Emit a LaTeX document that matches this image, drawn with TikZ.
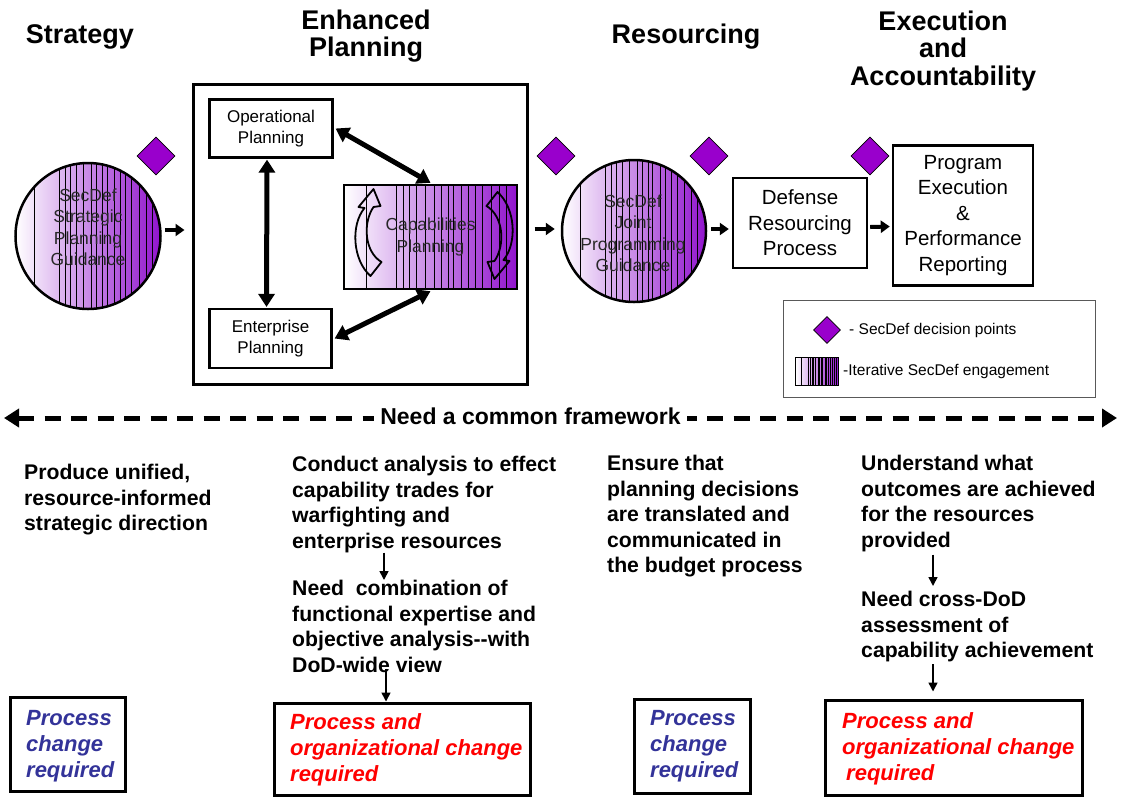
\documentclass[tikz,border=0pt]{standalone}
\usepackage{fontspec}
\setmainfont{Liberation Sans}
\usetikzlibrary{arrows.meta,shapes.geometric,calc}
\definecolor{purp}{RGB}{153,0,204}
\definecolor{shadeP}{RGB}{145,20,205}
\definecolor{blueT}{RGB}{51,51,153}
\definecolor{gtext}{RGB}{40,40,40}
\newcommand\myfs[2]{\fontsize{#1}{#2}\selectfont}
\tikzset{
 stripefill/.style={path picture={
   \shade[left color=white,middle color=shadeP!35,right color=shadeP] (path picture bounding box.south west) rectangle (path picture bounding box.north east);
   \foreach \f in {0.13,0.30,0.34,0.38,0.42,0.47,0.52,0.56,0.60,0.63,0.68,0.72,0.76,0.80,0.85,0.90,0.94}
     \draw[line width=0.5pt] ($(path picture bounding box.south west)!\f!(path picture bounding box.south east)$) -- ($(path picture bounding box.north west)!\f!(path picture bounding box.north east)$);
 }},
 head/.style={font=\bfseries\myfs{27}{27.5}, align=center, inner sep=0pt},
 subbox/.style={draw, line width=2.2pt, rectangle, inner sep=0pt, align=center, font=\myfs{17}{20.5}},
 bigbox/.style={draw, line width=2.4pt, rectangle, inner sep=0pt, align=center, font=\myfs{20.5}{25.5}},
 circ/.style={ellipse, draw, line width=2.5pt, inner sep=0pt, stripefill},
 ctext/.style={font=\myfs{17.5}{21.5}, text=gtext, align=center, inner sep=0pt},
 dmd/.style={diamond, draw, fill=purp, line width=0.6pt, minimum size=38pt, inner sep=0pt},
 dbl/.style={line width=5pt, {Triangle[length=13pt,width=16pt]}-{Triangle[length=13pt,width=16pt]}},
 blk/.style={line width=4pt, -{Triangle[length=9pt,width=12pt]}},
 coltext/.style={font=\bfseries\myfs{21.2}{25.5}, align=left, anchor=north west, inner sep=0pt},
 thinarr/.style={line width=1.6pt, -{Triangle[length=9pt,width=9pt]}},
 chg/.style={draw, line width=3pt, rectangle, inner sep=0pt},
 chgtxt/.style={font=\bfseries\itshape\myfs{22}{26}, align=left, anchor=west, inner sep=0pt},
 curvarr/.style={draw=black, line width=1.8pt, line join=round},
}
\begin{document}
\begin{tikzpicture}[x=1pt,y=-1pt]
\useasboundingbox (0,0) rectangle (1121,796);
% headings
\node[head] (hStrat) at (80,37) {Strategy};
\node[head] (hEP) at (366,36) {Enhanced\\Planning};
\node[head] (hRes) at (686,37) {Resourcing};
\node[head] (hExe) at (943,51) {Execution\\and\\Accountability};

% enhanced planning box
\node[draw, line width=3pt, minimum width=334pt, minimum height=300pt, inner sep=0pt] (ep) at (360,234) {};
\node[subbox, minimum width=123pt, minimum height=58pt] (op) at (271,128.5) {Operational\\Planning};
\node[subbox, minimum width=122pt, minimum height=59pt] (ent) at (270.5,338.5) {Enterprise\\Planning};
\node[draw, line width=2.4pt, stripefill, minimum width=173pt, minimum height=104pt, inner sep=0pt, align=center, font=\myfs{17.4}{22}, text=gtext] (cap) at (430.5,237) {Capabilities\\Planning};

% curved arrows inside capabilities planning
\begin{scope}[shift={(cap.center)}]
\draw[curvarr] (-60,39) .. controls (-78,23) and (-80,-12) .. (-66,-29) -- (-72,-30) -- (-57,-48) -- (-50,-31) -- (-57,-30) .. controls (-68,-14) and (-66,15) .. (-49,25) -- cycle;
\end{scope}
\begin{scope}[shift={($(cap.center)+(7,-6)$)}, rotate=180]
\draw[curvarr] (-60,39) .. controls (-78,23) and (-80,-12) .. (-66,-29) -- (-72,-30) -- (-57,-48) -- (-50,-31) -- (-57,-30) .. controls (-68,-14) and (-66,15) .. (-49,25) -- cycle;
\end{scope}

\draw[dbl] ([xshift=-4pt,yshift=-1pt]op.south) -- ([xshift=-4pt,yshift=1pt]ent.north);
\draw[dbl] ([xshift=2pt]op.east) -- ([yshift=1pt]cap.north);
\draw[dbl] ([xshift=2pt]ent.east) -- ([yshift=-1pt]cap.south);

% circles
\node[circ, minimum width=145pt, minimum height=146pt] (c1) at (88,236) {};
\node[ctext] (c1t) at (88,227) {SecDef\\Strategic\\Planning\\Guidance};
\node[circ, minimum width=144pt, minimum height=142pt] (c2) at (634,231) {};
\node[ctext] (c2t) at (633,233) {SecDef\\Joint\\Programming\\Guidance};

% boxes
\node[bigbox, minimum width=134pt, minimum height=90pt] (def) at (800,223) {Defense\\Resourcing\\Process};
\node[bigbox, minimum width=140pt, minimum height=140pt] (prog) at (963,215.5) {Program\\Execution\\\&\\Performance\\Reporting};

% diamonds
\node[dmd] (d1) at (156,156) {};
\node[dmd] (d2) at (556,156) {};
\node[dmd] (d3) at (709,156) {};
\node[dmd] (d4) at (870,156) {};

% small flow arrows
\draw[blk] ([xshift=3pt,yshift=6pt]c1.east) -- ([xshift=-7pt,yshift=4pt]ep.west);
\draw[blk] ([xshift=6pt,yshift=5pt]ep.east) -- ([xshift=-6pt,yshift=2pt]c2.west);
\draw[blk] ([xshift=4pt,yshift=2pt]c2.east) -- ([xshift=-3pt,yshift=-6pt]def.west);
\draw[blk] ([xshift=2pt,yshift=-4pt]def.east) -- ([xshift=-2pt,yshift=-11pt]prog.west);

% legend
\node[draw=black!65, line width=0.8pt, minimum width=312pt, minimum height=97pt, inner sep=0pt] (leg) at (939,348.5) {};
\node[dmd, minimum size=27pt] (legd) at (827,330) {};
\node[anchor=west, font=\myfs{15.5}{18}, inner sep=0pt] (legdt) at (849,330) {- SecDef decision points};
\node[draw, line width=0.8pt, stripefill, minimum width=43pt, minimum height=28pt, inner sep=0pt] (legs) at (817,371.5) {};
\node[anchor=west, font=\myfs{15.5}{18}, inner sep=0pt] (legst) at (843,371) {-Iterative SecDef engagement};

% common framework line
\coordinate (fl) at (4,418);
\coordinate (fr) at (1117,418);
\draw[line width=5pt, dash pattern=on 16pt off 10.5pt, {Triangle[length=15pt,width=18pt]}-{Triangle[length=15pt,width=18pt]}] (fl) -- (fr);
\node[fill=white, font=\bfseries\myfs{23}{26}, inner xsep=6pt, inner ysep=2pt] (fw) at (530.5,416) {Need a common framework};

% column texts
\node[coltext] (c1a) at (24,464) {Produce unified,\\resource-informed\\strategic direction};
\node[coltext] (c2a) at (292,456) {Conduct analysis to effect\\capability trades for\\warfighting and\\enterprise resources};
\node[coltext] (c2b) at (292,580) {Need\ \ combination of\\functional expertise and\\objective analysis-{}-with\\DoD-wide view};
\node[coltext] (c3a) at (607,455) {Ensure that\\planning decisions\\are translated and\\communicated in\\the budget process};
\node[coltext] (c4a) at (861,455) {Understand what\\outcomes are achieved\\for the resources\\provided};
\node[coltext] (c4b) at (861,591) {Need cross-DoD\\assessment of\\capability achievement};

% change boxes
\node[chg, minimum width=115pt, minimum height=94pt] (b1) at (67.5,744) {};
\node[chgtxt, text=blueT] (b1t) at (26,746) {Process\\change\\required};
\node[chg, minimum width=256pt, minimum height=92pt] (b2) at (402,749) {};
\node[chgtxt, text=red] (b2t) at (290,750) {Process and\\organizational change\\required};
\node[chg, minimum width=116pt, minimum height=94pt] (b3) at (692,746) {};
\node[chgtxt, text=blueT] (b3t) at (650,746) {Process\\change\\required};
\node[chg, minimum width=257pt, minimum height=95pt] (b4) at (953.5,747.5) {};
\node[chgtxt, text=red] (b4t) at (842,749) {Process and\\organizational change\\\hspace{4pt}required};

% down arrows
\draw[thinarr] (c2a.south -| 384,0) -- (c2b.north -| 384,0);
\draw[thinarr, shorten <=-3pt] (c2b.south -| 386,0) -- (b2.north -| 386,0);
\draw[thinarr, shorten <=3pt, shorten >=5pt] (c4a.south -| 933,0) -- (c4b.north -| 933,0);
\draw[thinarr, shorten <=2pt, shorten >=7pt] (c4b.south -| 933,0) -- (b4.north -| 933,0);
\end{tikzpicture}
\end{document}
